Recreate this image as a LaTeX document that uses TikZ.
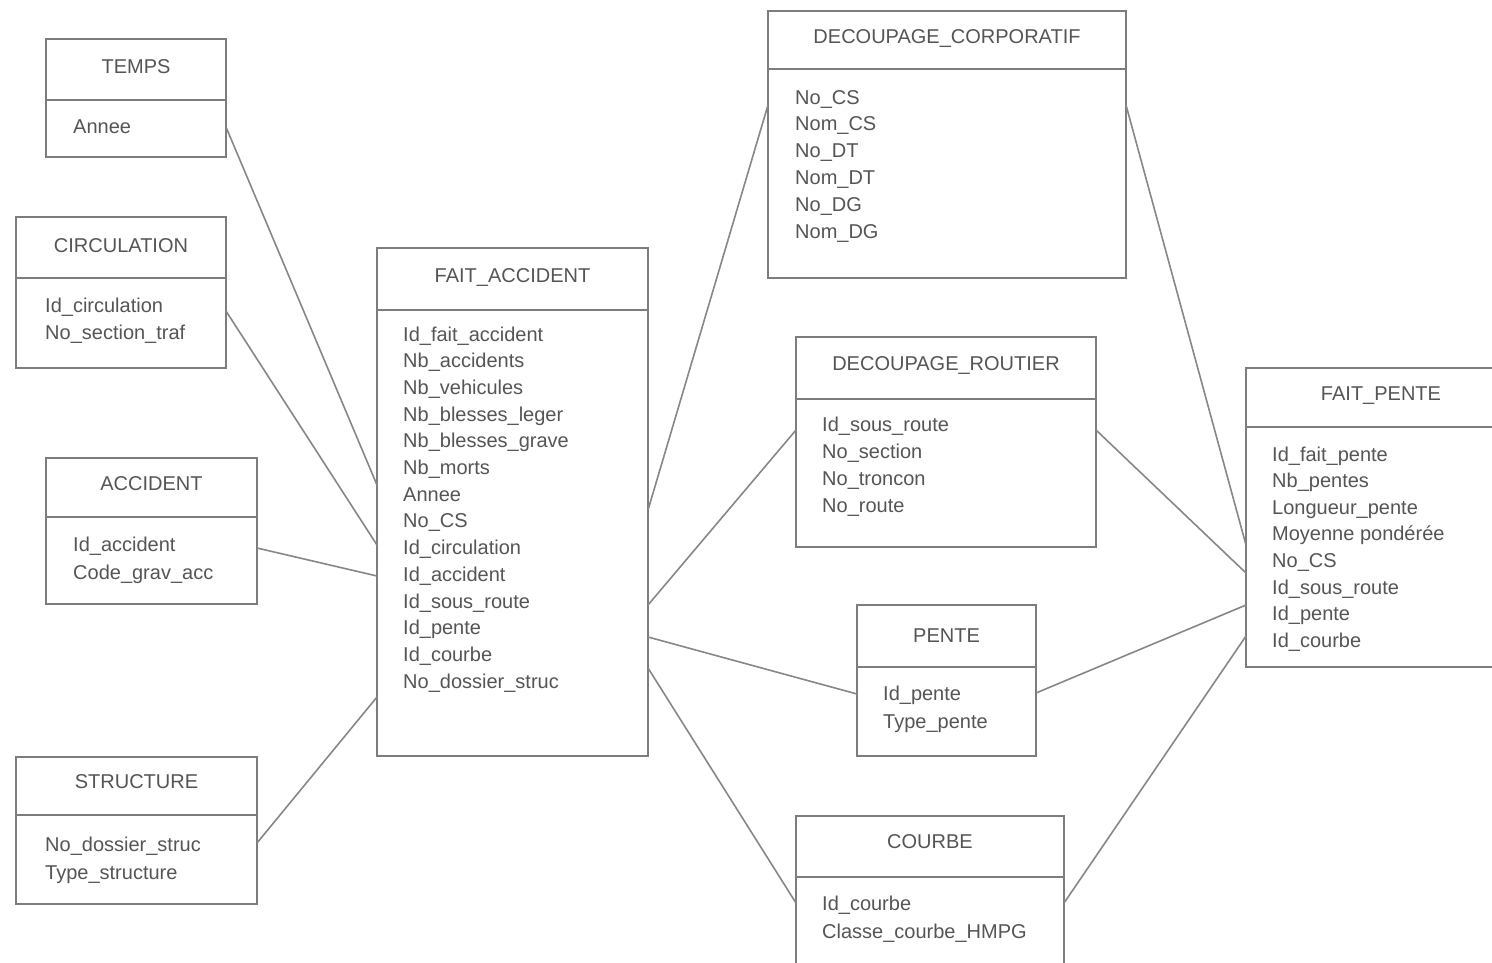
\documentclass[tikz,border=0pt]{standalone}
\usepackage{fontspec}
\setmainfont{Liberation Sans}
\usetikzlibrary{calc}
\definecolor{boxcol}{RGB}{125,125,125}
\definecolor{linecol}{RGB}{135,135,135}
\definecolor{txtcol}{RGB}{85,85,85}
\tikzset{
  erbox/.style={draw=boxcol, line width=2.6pt, rectangle, inner sep=0pt, outer sep=0pt},
  divider/.style={draw=boxcol, line width=2.6pt},
  conn/.style={draw=linecol, line width=1.6pt},
  etitle/.style={font=\fontsize{20}{24}\selectfont, text=txtcol, inner sep=0pt, anchor=base},
  eattr/.style={font=\fontsize{20}{24}\selectfont, text=txtcol, inner sep=0pt, anchor=base west},
}
% #1 name, #2 x1, #3 y1, #4 x2, #5 y2, #6 divider y, #7 title, #8 title baseline
\newcommand\erentity[8]{%
  \node[erbox, minimum width={#4-#2}, minimum height={#5-#3}] (#1) at ({(#2+#4)/2},{(#3+#5)/2}) {};
  \draw[divider] (#2,#6) -- (#4,#6);
  \node[etitle] (#1-title) at ({(#2+#4)/2},#8) {#7};
}
% #1 name, #2 x, #3 first baseline, #4 spacing, #5 list
\newcommand\erattrs[5]{%
  \foreach \t [count=\i] in {#5} {\node[eattr] (#1-a\i) at (#2,{#3+(\i-1)*#4}) {\t};}
}
\begin{document}
\begin{tikzpicture}[x=1pt,y=-1pt]
\useasboundingbox (0,0) rectangle (1492,962);
\clip (0,0) rectangle (1492,962);
\fill[white] (0,0) rectangle (1492,962);

\erentity{temps}{46}{39}{226}{157}{100}{TEMPS}{73}
\erattrs{temps}{73}{133}{28}{Annee}

\erentity{circ}{16}{217}{226}{368}{278}{CIRCULATION}{252}
\erattrs{circ}{45}{312}{27}{Id\_circulation, No\_section\_traf}

\erentity{acc}{46}{458}{257}{604}{517}{ACCIDENT}{490}
\erattrs{acc}{73}{551}{28.5}{Id\_accident, Code\_grav\_acc}

\erentity{struct}{16}{757}{257}{904}{815}{STRUCTURE}{788}
\erattrs{struct}{45}{851}{28}{No\_dossier\_struc, Type\_structure}

\erentity{fa}{377}{248}{648}{756}{310}{FAIT\_ACCIDENT}{282}
\erattrs{fa}{403}{341}{26.7}{Id\_fait\_accident, Nb\_accidents, Nb\_vehicules, Nb\_blesses\_leger, Nb\_blesses\_grave, Nb\_morts, Annee, No\_CS, Id\_circulation, Id\_accident, Id\_sous\_route, Id\_pente, Id\_courbe, No\_dossier\_struc}

\erentity{dc}{768}{11}{1126}{278}{69}{DECOUPAGE\_CORPORATIF}{43}
\erattrs{dc}{795}{104}{26.8}{No\_CS, Nom\_CS, No\_DT, Nom\_DT, No\_DG, Nom\_DG}

\erentity{dr}{796}{337}{1096}{547}{399}{DECOUPAGE\_ROUTIER}{370}
\erattrs{dr}{822}{431}{27}{Id\_sous\_route, No\_section, No\_troncon, No\_route}

\erentity{pente}{857}{605}{1036}{756}{667}{PENTE}{642}
\erattrs{pente}{883}{700}{28}{Id\_pente, Type\_pente}

\erentity{courbe}{796}{816}{1064}{1000}{877}{COURBE}{848}
\erattrs{courbe}{822}{910}{28}{Id\_courbe, Classe\_courbe\_HMPG}

\erentity{fp}{1246}{368}{1516}{667}{427}{FAIT\_PENTE}{400}
\erattrs{fp}{1272}{461}{26.6}{Id\_fait\_pente, Nb\_pentes, Longueur\_pente, Moyenne pondérée, No\_CS, Id\_sous\_route, Id\_pente, Id\_courbe}

% connectors
\draw[conn] ($(temps.north east)+(0,88)$) -- ($(fa.north west)+(0,237)$);
\draw[conn] ($(circ.north east)+(0,94)$) -- ($(fa.north west)+(0,297)$);
\draw[conn] ($(acc.north east)+(0,90)$) -- ($(fa.north west)+(0,328)$);
\draw[conn] ($(struct.north east)+(0,86)$) -- ($(fa.north west)+(0,449)$);
\draw[conn] ($(fa.north east)+(0,262)$) -- ($(dc.north west)+(0,94)$);
\draw[conn] ($(fa.north east)+(0,357)$) -- ($(dr.north west)+(0,93)$);
\draw[conn] ($(fa.north east)+(0,389)$) -- ($(pente.north west)+(0,89)$);
\draw[conn] ($(fa.north east)+(0,420)$) -- ($(courbe.north west)+(0,87)$);
\draw[conn] ($(dc.north east)+(0,94)$) -- ($(fp.north west)+(0,177)$);
\draw[conn] ($(dr.north east)+(0,93)$) -- ($(fp.north west)+(0,205)$);
\draw[conn] ($(pente.north east)+(0,88)$) -- ($(fp.north west)+(0,237)$);
\draw[conn] ($(courbe.north east)+(0,87)$) -- ($(fp.north west)+(0,268)$);
\end{tikzpicture}
\end{document}
